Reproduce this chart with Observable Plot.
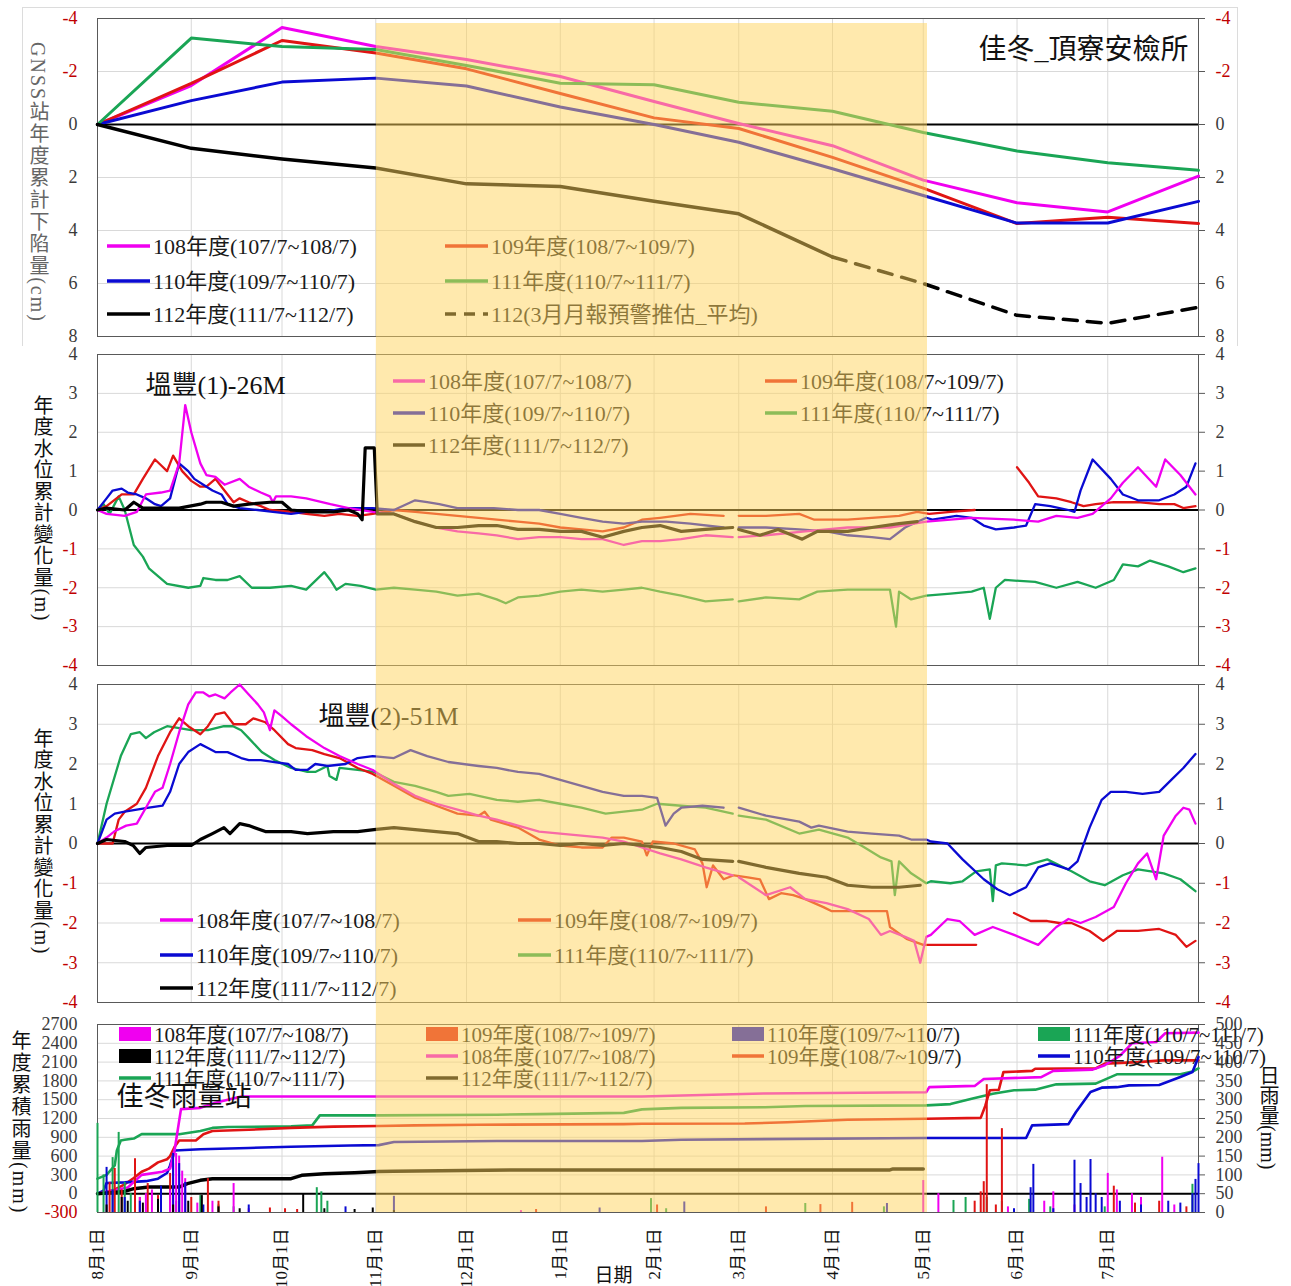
<!DOCTYPE html>
<html lang="zh-Hant">
<head>
<meta charset="utf-8">
<title>佳冬_頂寮安檢所</title>
<script src="https://cdn.jsdelivr.net/npm/d3@7"></script>
<script src="https://cdn.jsdelivr.net/npm/@observablehq/plot@0.6"></script>
<style>
html,body{margin:0;padding:0;background:#fff;}
#wrap{position:relative;width:1291px;height:1286px;overflow:hidden;background:#fff;}
#wrap > .panel{position:absolute;left:0;}
#box1{position:absolute;left:22px;top:7px;width:1214px;height:338px;border:1px solid #dcdcdc;border-bottom:none;pointer-events:none;}
</style>
</head>
<body>
<div id="wrap"></div>
<script>
// ================= DATA =================
// x = days since 8月1日
const monthDays = [0, 31, 61, 92, 122, 153, 184, 212, 243, 273, 304, 334];
const monthLabels = ["8月1日","9月1日","10月1日","11月1日","12月1日","1月1日","2月1日","3月1日","4月1日","5月1日","6月1日","7月1日"];
const dryPeriod = [92.2, 274.4];   // shaded period 11月1日 ~ 5月1日

const yearLabels = {
  y108: "108年度(107/7~108/7)",
  y109: "109年度(108/7~109/7)",
  y110: "110年度(109/7~110/7)",
  y111: "111年度(110/7~111/7)",
  y112: "112年度(111/7~112/7)"
};
const forecastLabel = "112(3月月報預警推估_平均)";
const titles = ["佳冬_頂寮安檢所", "塭豐(1)-26M", "塭豐(2)-51M", "佳冬雨量站"];
const yTitles = ["GNSS站年度累計下陷量(cm)", "年度水位累計變化量(m)", "年度水位累計變化量(m)", "年度累積雨量(mm)", "日雨量(mm)"];
const xTitle = "日期";

// ---- Panel 1: GNSS cumulative subsidence (cm), monthly ----
const gnssDays = [0, 31, 61, 92, 122, 153, 184, 212, 243, 273, 304, 334, 364];
const gnss108 = [0, -1.47, -3.66, -2.94, -2.45, -1.81, -0.87, -0.04, 0.8, 2.1, 2.95, 3.3, 1.95];
const gnss109 = [0, -1.55, -3.17, -2.7, -2.1, -1.17, -0.25, 0.15, 1.24, 2.4, 3.74, 3.5, 3.74];
const gnss110 = [0, -0.9, -1.6, -1.75, -1.45, -0.66, 0.0, 0.67, 1.67, 2.68, 3.72, 3.72, 2.9];
const gnss111 = [0, -3.26, -2.94, -2.83, -2.23, -1.56, -1.5, -0.84, -0.5, 0.3, 1.0, 1.44, 1.73];
const gnss112Days = [0, 31, 61, 92, 122, 153, 184, 212, 243];
const gnss112 = [0, 0.9, 1.3, 1.64, 2.24, 2.34, 2.9, 3.37, 5.0];
const forecastDays = [243, 273, 304, 334, 364];
const forecast112 = [5.0, 6.0, 7.2, 7.5, 6.9];

// ---- Panel 2: 塭豐(1)-26M water level change (m) [day, value] ----
const w1_108 = [[0,0],[3,-0.1],[9,-0.15],[13,-0.05],[16,0.4],[21,0.45],[24,0.5],[27,1.2],[29,2.7],[31,2.0],[34,1.2],[36,0.9],[39,0.85],[42,0.65],[47,0.8],[50,0.6],[54,0.45],[57,0.35],[58,0.2],[59,0.35],[64,0.35],[69,0.3],[77,0.15],[83,0.05],[91,-0.05],[98,-0.1],[105,-0.3],[112,-0.45],[119,-0.55],[126,-0.6],[132,-0.65],[139,-0.75],[146,-0.7],[153,-0.7],[160,-0.75],[167,-0.75],[174,-0.9],[180,-0.8],[186,-0.8],[193,-0.75],[201,-0.65],[210,-0.7],[211,NaN],[212,-0.7],[221,-0.65],[234,-0.55],[248,-0.45],[262,-0.45],[274,-0.3],[289,-0.2],[303,-0.25],[311,-0.3],[317,-0.15],[324,-0.2],[329,-0.1],[335,0.3],[339,0.7],[344,1.1],[350,0.6],[353,1.3],[358,0.9],[363,0.4]];
const w1_109 = [[0,0],[3,0.1],[8,0.4],[12,0.4],[15,0.8],[19,1.3],[21,1.15],[23,1.0],[25,1.4],[28,1.0],[31,0.75],[34,0.6],[36,0.6],[39,0.8],[41,0.6],[43,0.4],[45,0.2],[47,0.3],[50,0.2],[54,0.1],[57,0.0],[64,-0.05],[69,-0.1],[75,-0.15],[80,-0.1],[86,-0.15],[91,-0.1],[98,0.0],[105,-0.05],[112,-0.1],[119,-0.15],[126,-0.2],[132,-0.25],[139,-0.3],[146,-0.35],[153,-0.45],[160,-0.5],[167,-0.55],[174,-0.45],[180,-0.25],[186,-0.2],[196,-0.1],[207,-0.15],[211,NaN],[212,-0.15],[221,-0.15],[232,-0.1],[237,-0.25],[248,-0.25],[256,-0.2],[265,-0.15],[271,-0.05],[275,-0.1],[282,-0.05],[290,0.0],[297,NaN],[304,1.1],[308,0.7],[311,0.35],[317,0.3],[322,0.2],[326,0.1],[330,0.15],[336,0.2],[344,0.2],[351,0.15],[356,0.15],[359,0.05],[363,0.1]];
const w1_110 = [[0,0],[3,0.3],[5,0.5],[8,0.55],[10,0.45],[13,0.4],[16,0.3],[19,0.15],[21,0.1],[24,0.3],[27,1.2],[30,1.0],[32,0.8],[35,0.65],[38,0.5],[41,0.4],[43,0.15],[47,0.05],[53,0.0],[58,-0.05],[64,-0.1],[69,-0.05],[75,-0.05],[82,0.05],[87,0.05],[91,0.05],[98,0.0],[105,0.25],[109,0.2],[113,0.15],[119,0.05],[126,0.05],[131,0.05],[139,0.0],[146,0.0],[153,-0.1],[160,-0.2],[167,-0.3],[174,-0.35],[180,-0.3],[188,-0.3],[196,-0.35],[207,-0.45],[211,NaN],[212,-0.45],[221,-0.45],[232,-0.5],[241,-0.55],[248,-0.65],[256,-0.7],[262,-0.75],[267,-0.45],[274,-0.2],[276,-0.25],[284,-0.15],[289,-0.2],[293,-0.4],[297,-0.5],[303,-0.45],[307,-0.4],[310,0.15],[315,0.1],[321,0.0],[323,-0.05],[325,0.5],[329,1.3],[335,0.8],[339,0.4],[344,0.25],[351,0.25],[356,0.4],[360,0.6],[363,1.2]];
const w1_111 = [[0,0],[2,0.15],[4,-0.1],[7,0.35],[9,0.0],[12,-0.9],[15,-1.2],[17,-1.5],[20,-1.7],[23,-1.9],[30,-2.0],[34,-1.95],[35,-1.75],[39,-1.8],[43,-1.8],[47,-1.7],[51,-2.0],[57,-2.0],[64,-1.95],[69,-2.05],[75,-1.6],[77,-1.8],[79,-2.05],[82,-1.9],[87,-1.95],[92,-2.05],[98,-2.0],[105,-2.05],[112,-2.1],[119,-2.2],[126,-2.15],[132,-2.3],[135,-2.4],[139,-2.25],[146,-2.2],[153,-2.1],[160,-2.05],[167,-2.1],[174,-2.05],[180,-2.0],[186,-2.1],[193,-2.2],[201,-2.35],[210,-2.3],[211,NaN],[212,-2.35],[221,-2.25],[232,-2.3],[238,-2.1],[248,-2.05],[256,-2.05],[262,-2.05],[264,-3.0],[265,-2.1],[269,-2.3],[274,-2.2],[282,-2.15],[289,-2.1],[293,-2.0],[295,-2.8],[297,-2.0],[300,-1.8],[310,-1.85],[317,-2.0],[324,-1.85],[330,-2.0],[336,-1.8],[339,-1.4],[344,-1.45],[348,-1.3],[354,-1.45],[359,-1.6],[363,-1.5]];
const w1_112 = [[0,0],[3,0.05],[9,0.0],[12,0.2],[15,0.05],[20,0.05],[27,0.05],[34,0.15],[36,0.2],[41,0.2],[45,0.1],[50,0.15],[57,0.2],[61,0.2],[64,0.0],[71,-0.05],[78,-0.05],[83,0.0],[86,-0.1],[87.5,-0.25],[88.5,1.6],[91.5,1.6],[92.5,-0.1],[98,-0.1],[105,-0.3],[112,-0.45],[119,-0.45],[126,-0.4],[132,-0.4],[139,-0.5],[146,-0.5],[153,-0.55],[160,-0.55],[167,-0.7],[174,-0.55],[180,-0.45],[186,-0.4],[193,-0.55],[201,-0.5],[210,-0.45],[211,NaN],[212,-0.5],[219,-0.65],[225,-0.5],[233,-0.75],[238,-0.55],[248,-0.55],[256,-0.45],[265,-0.35],[271,-0.3]];

// ---- Panel 3: 塭豐(2)-51M water level change (m) ----
const w2_108 = [[0,0],[3,0.15],[5.5,0.3],[9.5,0.45],[13,0.5],[16,0.9],[19,1.3],[21.5,1.4],[24,2.0],[27,2.8],[30,3.5],[32.5,3.8],[35,3.8],[37,3.7],[39,3.75],[42,3.65],[44,3.8],[47,4.0],[50,3.75],[53,3.5],[55,3.3],[57,2.85],[58.5,3.35],[61,3.2],[64,3.0],[69,2.7],[75,2.4],[80,2.2],[86,2.0],[91,1.85],[98,1.5],[105,1.2],[112,1.0],[119,0.85],[126,0.7],[132,0.6],[139,0.45],[146,0.3],[153,0.25],[160,0.2],[167,0.15],[174,0.05],[180,-0.1],[186,-0.25],[193,-0.4],[201,-0.6],[210,-0.8],[211,NaN],[212,-0.85],[221,-1.3],[229,-1.1],[234,-1.4],[241,-1.5],[248,-1.65],[255,-1.9],[259,-2.3],[262,-2.2],[267,-2.35],[270,-2.45],[272,-3.0],[274,-2.35],[275.5,-2.3],[281,-1.9],[285,-1.95],[290,-2.3],[296,-2.1],[303,-2.3],[311,-2.55],[317,-2.1],[321,-1.9],[325,-2.0],[330,-1.85],[336,-1.6],[340,-1.0],[344,-0.5],[347,-0.25],[350,-0.9],[352.5,0.2],[356.5,0.7],[359,0.9],[361,0.85],[363,0.5]];
const w2_109 = [[0,0],[5,0.0],[7,0.6],[9,0.8],[13,1.0],[16,1.4],[20,2.2],[24,2.8],[27,3.15],[30,2.95],[34,2.75],[36.5,2.95],[39,3.25],[42,3.3],[45,3.0],[49,3.0],[51.5,3.15],[55.5,3.05],[58.5,2.85],[63,2.5],[65.5,2.4],[71,2.35],[75,2.25],[80,2.15],[86,1.9],[91,1.75],[98,1.45],[105,1.15],[112,0.95],[119,0.75],[126,0.7],[128,0.8],[130,0.6],[139,0.4],[146,0.1],[153,-0.05],[160,-0.1],[167,-0.1],[170,0.15],[174,0.15],[180,0.05],[181.6,-0.3],[183.6,0.05],[190.5,0.0],[197.5,-0.15],[200,-0.5],[201.4,-1.1],[203.5,-0.55],[207,-0.9],[210.4,-0.8],[215,-0.85],[219,-0.9],[222,-1.4],[226,-1.25],[230,-1.3],[234,-1.4],[240,-1.6],[242.6,-1.7],[261,-1.7],[262,-2.1],[267.5,-2.4],[273,-2.55],[290.5,-2.55],[297,NaN],[303,-1.75],[308.5,-1.95],[314,-1.95],[318,-2.0],[322,-2.0],[328,-2.2],[332.5,-2.45],[337,-2.2],[344,-2.2],[351,-2.15],[356.5,-2.3],[360,-2.6],[363,-2.45]];
const w2_110 = [[0,0],[3,0.6],[5.7,0.75],[9,0.8],[13,0.85],[17,0.9],[21.5,0.95],[24,1.3],[27,2.0],[30,2.3],[34,2.5],[36.5,2.4],[39,2.3],[43,2.3],[47.5,2.15],[50,2.1],[54,2.1],[58.5,2.05],[63,2.0],[65.5,1.85],[69.4,1.85],[72,2.0],[76,1.95],[82,2.0],[86,2.15],[91,2.2],[98,2.15],[103.5,2.35],[109,2.2],[116,2.05],[126,1.95],[132,1.9],[139,1.8],[146,1.75],[153,1.6],[160,1.45],[167,1.3],[174,1.2],[180,1.2],[185,1.15],[187.8,0.45],[190.5,0.75],[193,0.9],[200,0.95],[207,0.9],[211,NaN],[212,0.9],[221,0.7],[232,0.55],[236,0.4],[238.5,0.45],[248,0.3],[256,0.25],[265,0.2],[269,0.1],[274,0.1],[275.5,0.05],[281,0.0],[286,-0.4],[293,-0.9],[297.5,-1.15],[301.6,-1.3],[307,-1.1],[311,-0.6],[315,-0.5],[321,-0.65],[324,-0.45],[328,0.4],[332,1.1],[335,1.3],[340,1.3],[345.5,1.25],[351,1.3],[355,1.6],[359,1.9],[363,2.25]];
const w2_111 = [[0,0],[3,1.0],[7.7,2.2],[11,2.75],[14,2.8],[16,2.65],[18.7,2.8],[23,2.95],[27,2.9],[31,2.85],[36.5,2.85],[41.8,2.95],[44.8,2.95],[47.5,2.85],[50,2.65],[54.3,2.3],[58.5,2.1],[64,1.9],[69.4,1.8],[72,1.8],[76,1.95],[76.7,1.7],[79,1.6],[80,1.9],[86,1.85],[91.4,1.8],[98,1.55],[105,1.45],[112,1.3],[116,1.2],[123,1.25],[132,1.1],[139,1.05],[146,1.1],[153,1.0],[160,0.9],[168,0.75],[174,0.8],[180,0.85],[185,1.0],[193,0.95],[201,0.9],[210,0.75],[211,NaN],[212,0.7],[221,0.6],[232,0.25],[238.5,0.35],[248,0.15],[253.6,-0.1],[259,-0.35],[262.5,-0.45],[263.6,-1.3],[265,-0.45],[269,-0.75],[274,-1.0],[275.5,-0.95],[282,-1.0],[286,-0.95],[290.5,-0.7],[295,-0.65],[296,-1.45],[297,-0.55],[299,-0.5],[307,-0.55],[314,-0.4],[322,-0.7],[328,-0.95],[333,-1.05],[339,-0.8],[344,-0.65],[352.5,-0.75],[358,-0.9],[363,-1.2]];
const w2_112 = [[0,0],[3,0.1],[9,0.05],[11.8,-0.05],[14,-0.25],[16,-0.1],[23,-0.05],[31,-0.05],[34,0.1],[38,0.25],[41.8,0.4],[43.8,0.25],[47,0.5],[50,0.45],[55.5,0.3],[64,0.3],[69.4,0.25],[78,0.3],[86,0.3],[91.4,0.35],[98,0.4],[105,0.35],[112,0.3],[119,0.25],[126,0.05],[132,0.05],[139,0.0],[146,0.0],[153,-0.05],[160,0.0],[167,-0.05],[174,0.0],[180,-0.05],[186,-0.1],[193,-0.2],[200,-0.4],[210,-0.45],[211,NaN],[212,-0.45],[221,-0.6],[232,-0.75],[241,-0.85],[248,-1.05],[256,-1.1],[265,-1.1],[272,-1.05]];

// ---- Panel 4: 佳冬雨量站 cumulative rainfall (mm, left axis) ----
const cum108 = [[0,0],[5,50],[10,100],[14.6,300],[21.5,350],[24,400],[25.5,700],[27.6,1350],[34,1370],[39,1450],[47.5,1550],[93,1550],[180,1550],[220,1600],[274,1620],[275,1700],[290,1720],[293,1830],[312,1860],[316,1960],[329,1980],[333,2050],[338,2200],[342,2400],[350,2420],[353,2560],[364,2570]];
const cum109 = [[0,0],[5,50],[9,150],[12,250],[14.6,350],[17,400],[20,500],[23,550],[24,600],[25.5,750],[27,850],[32.5,850],[35,950],[38,1000],[50,1020],[64,1050],[78,1070],[93,1080],[105,1090],[126,1100],[174,1110],[180,1117],[214,1120],[228,1140],[248,1180],[274,1197],[292,1210],[293.5,1400],[295,1650],[298,1660],[299.5,1940],[309,1960],[310,1995],[330,2000],[333,2075],[344,2100],[352,2128],[364,2128]];
const cum110 = [[0,0],[2,50],[3,170],[9,180],[16,200],[20,240],[23,330],[24,450],[25.5,690],[34,710],[50,730],[64,750],[83.5,770],[93,775],[98,825],[132,840],[180,840],[193,862],[274,888],[307,888],[309,1090],[321,1110],[323.5,1303],[328.3,1623],[332,1692],[337,1700],[341,1729],[351,1735],[358,1862],[362,1942],[364,2181]];
const cum111 = [[0,240],[3,300],[5.7,450],[6.4,690],[7.7,850],[9,860],[12,880],[14.6,950],[27,950],[34,1000],[38,1050],[43,1065],[64,1075],[71,1090],[73.5,1250],[93,1250],[132,1260],[146,1270],[174,1290],[180,1346],[182,1350],[193,1370],[220.6,1380],[234,1400],[274,1410],[282,1430],[289,1516],[296,1596],[303,1650],[310,1660],[317,1745],[330,1756],[337,1905],[358,1905],[362,1950],[364,2000]];
const cum112 = [[0,0],[9,37],[12,80],[17,106],[27,106],[29.7,160],[34,213],[38,240],[64,240],[67.5,293],[75,319],[85,335],[93,356],[98,360],[139,380],[262,380],[263,395],[273,395]];

// ---- Panel 4: daily rainfall (mm, right axis) ----
const rain108 = [[14,40],[16,50],[18,60],[20,35],[24,60],[25,130],[26,157],[27,150],[28,110],[29,90],[33,25],[38,30],[45,77],[50,10],[140,5],[273,85],[278,50],[301,15],[313,30],[316,55],[323,20],[334,104],[337,60],[342,50],[345,40],[352,147],[356,20]];
const rain109 = [[4,80],[5.7,117],[8,60],[12.4,143],[14,40],[16.6,77],[20,45],[24,104],[27,60],[31,40],[36.5,90],[40,30],[57,12],[62,10],[66,8],[145,8],[185,20],[221,15],[239,21],[249.5,27],[290,30],[292,55],[293,82],[294,340],[297,20],[299,223],[336,70],[343,25],[351,30],[360,15]];
const rain110 = [[3,120],[5,60],[9,40],[14,30],[21,70],[25,157],[27,130],[29,80],[35,20],[50,20],[82,15],[98,43],[166,12],[194,28],[261,24],[303,10],[308.5,66],[309.4,128],[316,10],[323,139],[325,77],[327,40],[328.3,141],[330,50],[332,40],[338,30],[345,20],[354,30],[358,25],[362,50],[363,88],[364,130]];
const rain111 = [[0,237],[2,100],[5,146],[7,213],[9,80],[11,50],[26,30],[34,45],[40,20],[45,15],[72.5,66],[74,55],[76,30],[183,37],[188,10],[234,24],[260,15],[283,32],[287,40],[294,40],[299,30],[308,35],[315,15],[333,15],[345,10],[362,75]];
const rain112 = [[3,20],[8,40],[10,30],[15,25],[20,35],[25,20],[30,30],[34.5,45],[40,15],[47,10],[68,50],[75,10],[85,8],[91,12],[98,5]];

// axis ticks
const ticksGnss = [-4, -2, 0, 2, 4, 6, 8];
const ticksWater = [-4, -3, -2, -1, 0, 1, 2, 3, 4];
const ticksCum = [-300, 0, 300, 600, 900, 1200, 1500, 1800, 2100, 2400, 2700];
const ticksDaily = [0, 50, 100, 150, 200, 250, 300, 350, 400, 450, 500];

// ================= STYLE =================
const FONT = "'Liberation Serif','Noto Sans CJK TC','Noto Sans CJK SC',serif";
const W = 1291, ML = 97, MR = 93;
const C = {y108: "#F000F0", y109: "#E01414", y110: "#0A0AD2", y111: "#1AA555", y112: "#000000"};
const YELLOW = "#FFD35B";
const NEG = "#C00000", TXT = "#3a3a3a", GRID = "#d9d9d9", FRAME = "#595959";
const dailyToLeft = r => -300 + r * 6;   // right axis 0..500 ↔ left -300..2700
const leftToDaily = v => String(Math.round((v + 300) / 6));
const plain = d => String(d);

const xy = {x: d => d[0], y: d => d[1]};
const zip = (xs, ys) => xs.map((x, i) => [x, ys[i]]);

function yAxes(ticks, fmtR = plain, ticksR = ticks) {
  const out = [];
  const neg = ticks.filter(t => t < 0), pos = ticks.filter(t => t >= 0);
  const common = {tickSize: 0, fontSize: 18, fontFamily: FONT};
  if (neg.length) out.push(Plot.axisY({...common, ticks: neg, anchor: "left", tickPadding: 20, tickFormat: plain, color: NEG}));
  if (pos.length) out.push(Plot.axisY({...common, ticks: pos, anchor: "left", tickPadding: 20, tickFormat: plain, color: TXT}));
  out.push(Plot.axisY({ticks: ticksR, anchor: "right", tickSize: 6, tickFormat: () => "", color: FRAME}));
  const negR = ticksR.filter(t => +fmtR(t) < 0), posR = ticksR.filter(t => +fmtR(t) >= 0);
  if (negR.length) out.push(Plot.axisY({...common, ticks: negR, anchor: "right", tickPadding: 17, tickFormat: fmtR, color: NEG}));
  if (posR.length) out.push(Plot.axisY({...common, ticks: posR, anchor: "right", tickPadding: 17, tickFormat: fmtR, color: TXT}));
  return out;
}

function place(entries, colX, rowY, w) {
  return entries.map((e, i) => ({...e, x: colX[i % colX.length], y: rowY[Math.floor(i / colX.length)], w}));
}

function legendMark(items, fontSize) {
  return () => {
    const g = d3.create("svg:g").attr("font-family", FONT).attr("font-size", fontSize).attr("text-anchor", "start");
    for (const it of items) {
      if (it.kind === "square") {
        g.append("rect").attr("x", it.x).attr("y", it.y - 7).attr("width", it.w).attr("height", 14).attr("fill", it.color);
      } else {
        g.append("line").attr("x1", it.x).attr("x2", it.x + it.w).attr("y1", it.y).attr("y2", it.y)
          .attr("stroke", it.color).attr("stroke-width", 3.5)
          .attr("stroke-dasharray", it.kind === "dash" ? "11,8" : null);
      }
      g.append("text").attr("x", it.x + it.w + 3).attr("y", it.y).attr("dy", "0.36em")
        .attr("text-anchor", "start").attr("fill", "#1a1a1a").text(it.label);
    }
    return g.node();
  };
}

function vTitle(text, x, y, size, color, spacing) {
  return () => d3.create("svg:text").attr("x", x).attr("y", y)
      .attr("font-family", FONT).attr("font-size", size).attr("fill", color)
      .attr("text-anchor", "start")
      .style("writing-mode", "vertical-rl").style("letter-spacing", spacing + "px")
      .text(text).node();
}

const band = (insetTop, insetBottom) =>
  Plot.rect([dryPeriod], {x1: d => d[0], x2: d => d[1], fill: YELLOW, fillOpacity: 0.5, insetTop, insetBottom});

const baseOpts = (height, mt, mb, ydomain) => ({
  width: W, height, marginTop: mt, marginBottom: mb, marginLeft: ML, marginRight: MR,
  x: {domain: [0, 364], axis: null},
  y: {domain: ydomain, axis: null},
  style: {fontFamily: FONT, fontSize: "18px", background: "white", color: "#000"}
});

const wrap = document.getElementById("wrap");
function add(svg, top) {
  svg.classList.add("panel");
  svg.style.top = top + "px";
  wrap.appendChild(svg);
}

// ================= PANEL 1 =================
const leg1 = place([
  {label: yearLabels.y108, color: C.y108, kind: "line"},
  {label: yearLabels.y109, color: C.y109, kind: "line"},
  {label: yearLabels.y110, color: C.y110, kind: "line"},
  {label: yearLabels.y111, color: C.y111, kind: "line"},
  {label: yearLabels.y112, color: C.y112, kind: "line"},
  {label: forecastLabel, color: C.y112, kind: "dash"}
], [107, 445], [246, 281, 314], 43);

add(Plot.plot({
  ...baseOpts(345, 18, 9, [8, -4]),
  marks: [
    Plot.gridX(monthDays, {stroke: GRID, strokeOpacity: 1}),
    Plot.gridY(ticksGnss, {stroke: GRID, strokeOpacity: 1}),
    Plot.frame({stroke: FRAME}),
    Plot.ruleY([0], {stroke: "#000", strokeWidth: 2}),
    Plot.line(zip(gnssDays, gnss108), {...xy, stroke: C.y108, strokeWidth: 3}),
    Plot.line(zip(gnssDays, gnss109), {...xy, stroke: C.y109, strokeWidth: 3}),
    Plot.line(zip(gnssDays, gnss110), {...xy, stroke: C.y110, strokeWidth: 3}),
    Plot.line(zip(gnssDays, gnss111), {...xy, stroke: C.y111, strokeWidth: 3}),
    Plot.line(zip(gnss112Days, gnss112), {...xy, stroke: C.y112, strokeWidth: 3.5}),
    Plot.line(zip(forecastDays, forecast112), {...xy, stroke: C.y112, strokeWidth: 3.5, strokeDasharray: "14,10"}),
    legendMark(leg1, 22),
    Plot.text([titles[0]], {frameAnchor: "top-right", text: d => d, dx: -10, dy: 32, fontSize: 28, textAnchor: "end", lineAnchor: "middle", fill: "#111"}),
    band(5, -9),
    ...yAxes(ticksGnss),
    vTitle(yTitles[0], 38, 42, 20, "#666", 2)
  ]
}), 0);

// ================= PANELS 2 & 3 =================
const legWater = (rowY, colX, w) => place([
  {label: yearLabels.y108, color: C.y108, kind: "line"},
  {label: yearLabels.y109, color: C.y109, kind: "line"},
  {label: yearLabels.y110, color: C.y110, kind: "line"},
  {label: yearLabels.y111, color: C.y111, kind: "line"},
  {label: yearLabels.y112, color: C.y112, kind: "line"}
], colX, rowY, w);

function waterPanel(series, title, titleDx, titleDy, legendItems, height, mt, mb, inT, inB, ytTop) {
  return Plot.plot({
    ...baseOpts(height, mt, mb, [-4, 4]),
    marks: [
      Plot.gridX(monthDays, {stroke: GRID, strokeOpacity: 1}),
      Plot.gridY(ticksWater, {stroke: GRID, strokeOpacity: 1}),
      Plot.frame({stroke: FRAME}),
      Plot.ruleY([0], {stroke: "#000", strokeWidth: 2}),
      Plot.line(series[3], {...xy, stroke: C.y111, strokeWidth: 2.3}),
      Plot.line(series[1], {...xy, stroke: C.y109, strokeWidth: 2.3}),
      Plot.line(series[2], {...xy, stroke: C.y110, strokeWidth: 2.3}),
      Plot.line(series[0], {...xy, stroke: C.y108, strokeWidth: 2.3}),
      Plot.line(series[4], {...xy, stroke: C.y112, strokeWidth: 3.2}),
      legendMark(legendItems, 22),
      Plot.text([title], {frameAnchor: "top-left", text: d => d, dx: titleDx, dy: titleDy, fontSize: 26, textAnchor: "start", lineAnchor: "middle", fill: "#111"}),
      band(inT, inB),
      ...yAxes(ticksWater),
      vTitle(yTitles[1], 42, ytTop, 20, "#111", 1.5)
    ]
  });
}

add(waterPanel([w1_108, w1_109, w1_110, w1_111, w1_112], titles[1], 48, 31,
  legWater([36, 68, 100], [393, 765], 32), 330, 9, 10, -9, -10, 50), 345);

add(waterPanel([w2_108, w2_109, w2_110, w2_111, w2_112], titles[2], 221, 32,
  legWater([245, 280, 313], [160, 518], 33), 338, 9, 11, -9, -11, 53), 675);

// ================= PANEL 4 =================
const leg4 = place([
  {label: yearLabels.y108, color: C.y108, kind: "square"},
  {label: yearLabels.y109, color: C.y109, kind: "square"},
  {label: yearLabels.y110, color: C.y110, kind: "square"},
  {label: yearLabels.y111, color: C.y111, kind: "square"},
  {label: yearLabels.y112, color: C.y112, kind: "square"},
  {label: yearLabels.y108, color: C.y108, kind: "line"},
  {label: yearLabels.y109, color: C.y109, kind: "line"},
  {label: yearLabels.y110, color: C.y110, kind: "line"},
  {label: yearLabels.y111, color: C.y111, kind: "line"},
  {label: yearLabels.y112, color: C.y112, kind: "line"}
], [119, 426, 732, 1038], [21, 43, 65], 32);

const bars = (data, color) => Plot.ruleX(data, {x: d => d[0], y1: dailyToLeft(0), y2: d => dailyToLeft(d[1]), stroke: color, strokeWidth: 2});

add(Plot.plot({
  ...baseOpts(273, 11, 74, [-300, 2700]),
  marks: [
    Plot.gridX(monthDays, {stroke: GRID, strokeOpacity: 1}),
    Plot.gridY(ticksCum, {stroke: GRID, strokeOpacity: 1}),
    Plot.frame({stroke: FRAME}),
    Plot.ruleY([0], {stroke: "#000", strokeWidth: 2}),
    Plot.line(cum111, {...xy, stroke: C.y111, strokeWidth: 2.6}),
    Plot.line(cum109, {...xy, stroke: C.y109, strokeWidth: 2.6}),
    Plot.line(cum110, {...xy, stroke: C.y110, strokeWidth: 2.6}),
    Plot.line(cum108, {...xy, stroke: C.y108, strokeWidth: 2.6}),
    Plot.line(cum112, {...xy, stroke: C.y112, strokeWidth: 3.5}),
    bars(rain111, C.y111),
    bars(rain109, C.y109),
    bars(rain108, C.y108),
    bars(rain110, C.y110),
    bars(rain112, C.y112),
    legendMark(leg4, 21),
    Plot.text([titles[3]], {frameAnchor: "top-left", text: d => d, dx: 19, dy: 73, fontSize: 27, textAnchor: "start", lineAnchor: "middle", fill: "#111"}),
    band(-11, 0),
    ...yAxes(ticksCum, leftToDaily, ticksDaily.map(dailyToLeft)),
    Plot.axisX({ticks: monthDays, anchor: "bottom", tickFormat: d => monthLabels[monthDays.indexOf(d)], tickRotate: -90, tickSize: 0, tickPadding: 16, fontSize: 17, color: "#111"}),
    Plot.text([xTitle], {frameAnchor: "bottom-left", text: d => d, dx: 516, dy: 63, fontSize: 19, textAnchor: "middle", lineAnchor: "middle", fill: "#111"}),
    vTitle(yTitles[3], 20, 17, 20, "#111", 2),
    vTitle(yTitles[4], 1268, 52, 20, "#111", 0)
  ]
}), 1013);

const box = document.createElement("div");
box.id = "box1";
wrap.appendChild(box);
</script>
</body>
</html>
